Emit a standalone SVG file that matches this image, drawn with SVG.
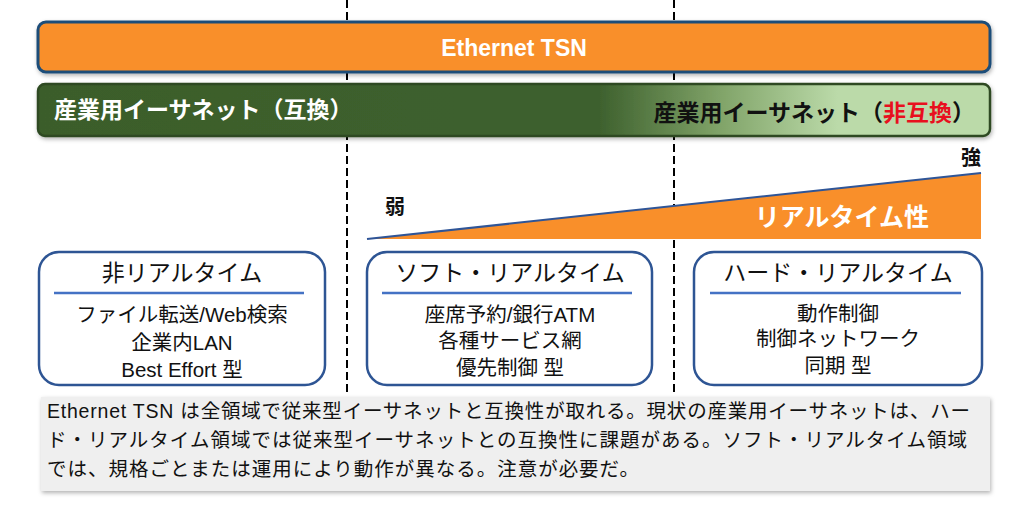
<svg xmlns="http://www.w3.org/2000/svg" width="1024" height="521" viewBox="0 0 1024 521">
<defs>
<style>
.jp{font-family:"Liberation Sans","Noto Sans CJK JP",sans-serif;}
.box{fill:#fff;stroke:#2E5594;stroke-width:2.5;}
.sep{stroke:#4472C4;stroke-width:2.5;}
.title{font-size:23px;fill:#111;text-anchor:middle;}
.item{font-size:20.5px;fill:#111;text-anchor:middle;}
.div{stroke:#000;stroke-width:2;stroke-dasharray:8 4;fill:none;}
.note{font-size:19.5px;fill:#111;}
</style>
<linearGradient id="gg" gradientUnits="userSpaceOnUse" x1="38" y1="0" x2="990" y2="0">
<stop offset="0" stop-color="#3B5D2B"/>
<stop offset="0.59" stop-color="#3E612E"/>
<stop offset="0.72" stop-color="#82A56A"/>
<stop offset="0.84" stop-color="#BBDAA9"/>
<stop offset="1" stop-color="#BBDAA9"/>
</linearGradient>
<filter id="sh" x="-5%" y="-20%" width="110%" height="150%">
<feDropShadow dx="1" dy="2" stdDeviation="2" flood-color="#000" flood-opacity="0.3"/>
</filter>
</defs>
<rect width="1024" height="521" fill="#fff"/>

<g id="dividers">
<line class="div" x1="347" y1="0" x2="347" y2="392"/>
<line class="div" x1="674" y1="0" x2="674" y2="392"/>
</g>

<g id="tsn-bar">
<rect x="38" y="22" width="952" height="50" rx="8" fill="#F98F2A" stroke="#1F4E79" stroke-width="3" filter="url(#sh)"/>
<text class="jp" x="514" y="56" font-size="23" font-weight="bold" fill="#fff" text-anchor="middle">Ethernet TSN</text>
</g>

<g id="industrial-bar">
<rect x="38" y="84" width="952" height="52" rx="7" fill="url(#gg)" stroke="#2D4A21" stroke-width="2.5" filter="url(#sh)"/>
<text class="jp" x="54" y="118" font-size="23" font-weight="bold" fill="#fff">産業用イーサネット（互換）</text>
<text class="jp" x="975" y="121" font-size="23" font-weight="bold" fill="#111" text-anchor="end">産業用イーサネット（<tspan fill="#E8101E">非互換</tspan>）</text>
</g>

<g id="realtime-scale">
<polygon points="367,239 981,173 981,239" fill="#F98F2A"/>
<line x1="367" y1="239" x2="981" y2="173" stroke="#2F5597" stroke-width="2"/>
<text class="jp" x="395" y="214" font-size="20" font-weight="bold" fill="#111" text-anchor="middle">弱</text>
<text class="jp" x="971" y="165" font-size="20" font-weight="bold" fill="#111" text-anchor="middle">強</text>
<text class="jp" x="842" y="226" font-size="25" font-weight="bold" fill="#fff" text-anchor="middle">リアルタイム性</text>
</g>

<g id="non-realtime">
<rect class="box" x="39" y="252" width="286" height="133" rx="20"/>
<text class="jp title" x="182" y="281">非リアルタイム</text>
<line class="sep" x1="54" y1="293" x2="304" y2="293"/>
<text class="jp item" x="182" y="322">ファイル転送/Web検索</text>
<text class="jp item" x="182" y="350">企業内LAN</text>
<text class="jp item" x="182" y="377">Best Effort 型</text>
</g>

<g id="soft-realtime">
<rect class="box" x="367" y="252" width="285" height="133" rx="20"/>
<text class="jp title" x="510" y="281">ソフト・リアルタイム</text>
<line class="sep" x1="382" y1="293" x2="632" y2="293"/>
<text class="jp item" x="510" y="322">座席予約/銀行ATM</text>
<text class="jp item" x="510" y="348">各種サービス網</text>
<text class="jp item" x="510" y="375">優先制御 型</text>
</g>

<g id="hard-realtime">
<rect class="box" x="694" y="252" width="288" height="133" rx="20"/>
<text class="jp title" x="838" y="281">ハード・リアルタイム</text>
<line class="sep" x1="710" y1="293" x2="961" y2="293"/>
<text class="jp item" x="838" y="321">動作制御</text>
<text class="jp item" x="838" y="346">制御ネットワーク</text>
<text class="jp item" x="838" y="373">同期 型</text>
</g>

<g id="note">
<rect x="41" y="397" width="949" height="94" fill="#EFEFEF" filter="url(#sh)"/>
<text class="jp note" x="47" y="418" textLength="923" lengthAdjust="spacing">Ethernet TSN は全領域で従来型イーサネットと互換性が取れる。現状の産業用イーサネットは、ハー</text>
<text class="jp note" x="47" y="447" textLength="920" lengthAdjust="spacing">ド・リアルタイム領域では従来型イーサネットとの互換性に課題がある。ソフト・リアルタイム領域</text>
<text class="jp note" x="47" y="476" textLength="592" lengthAdjust="spacing">では、規格ごとまたは運用により動作が異なる。注意が必要だ。</text>
</g>
</svg>
